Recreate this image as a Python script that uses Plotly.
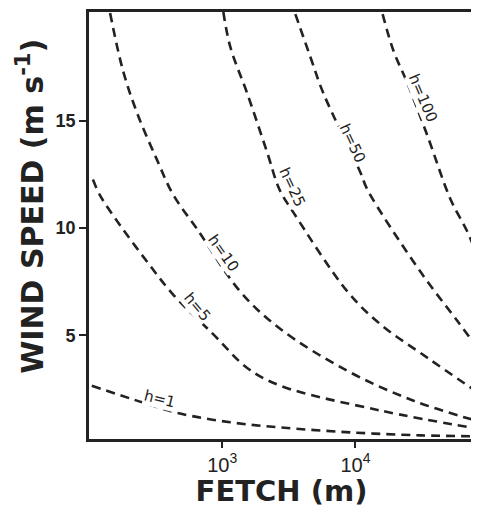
import numpy as np
import plotly.graph_objects as go

# ---- data (fetch in m, wind speed in m/s) ----
fetch_h1 = [105, 255, 483, 1150, 2730, 9160, 30800, 79000]
speed_h1 = [2.64, 1.85, 1.34, 0.93, 0.69, 0.46, 0.32, 0.28]

fetch_h5 = [107, 121, 171, 273, 428, 855, 1540, 2730, 15400, 79000]
speed_h5 = [12.27, 11.53, 10.14, 8.43, 6.90, 5.05, 3.47, 2.64, 1.48, 0.65]

fetch_h10 = [144, 180, 230, 324, 428, 649, 1365, 2690, 8710, 27300, 79000]
speed_h10 = [20.05, 17.36, 15.37, 13.19, 11.57, 9.95, 7.04, 5.32, 3.33, 1.94, 1.02]

fetch_h25 = [1020, 1150, 1540, 2180, 2690, 3420, 8710, 15400, 34800, 79000]
speed_h25 = [20.1, 18.47, 16.30, 13.52, 11.81, 10.74, 7.04, 5.51, 3.94, 2.41]

fetch_h50 = [3540, 4590, 5750, 10900, 12300, 30800, 58500, 82600]
speed_h50 = [20.0, 18.0, 16.3, 12.6, 11.8, 7.96, 5.65, 4.40]

fetch_h100 = [16000, 19300, 24600, 34800, 51800, 69500, 85500]
speed_h100 = [20.0, 18.29, 16.76, 14.3, 11.34, 9.81, 8.43]

curve_names = ["h=1", "h=5", "h=10", "h=25", "h=50", "h=100"]
curve_fetch = [fetch_h1, fetch_h5, fetch_h10, fetch_h25, fetch_h50, fetch_h100]
curve_speed = [speed_h1, speed_h5, speed_h10, speed_h25, speed_h50, speed_h100]

# label anchor points (on the curves) and text angles
label_fetch = [342, 648, 1020, 3360, 9480, 31900]
label_speed = [2.04, 6.30, 8.84, 11.94, 13.98, 16.06]
label_angle = [14, 50, 55, 65, 65, 67]

x_tickvals = [1e3, 1e4]
x_ticktext = ["10<sup>3</sup>", "10<sup>4</sup>"]
y_tickvals = [5, 10, 15]
y_ticktext = ["5", "10", "15"]

INK = "#222222"

fig = go.Figure()
for name, fx, sy in zip(curve_names, curve_fetch, curve_speed):
    fig.add_trace(go.Scatter(
        x=fx, y=sy, mode="lines", name=name,
        line=dict(color=INK, width=2.6, dash="9px,6px", shape="spline", smoothing=1.0),
        showlegend=False, hoverinfo="skip",
    ))

for name, lx, ly, ang in zip(curve_names, label_fetch, label_speed, label_angle):
    fig.add_annotation(
        x=np.log10(lx), y=ly, xref="x", yref="y", text=name, showarrow=False,
        textangle=ang, font=dict(family="DejaVu Sans", size=15, color=INK),
        bgcolor="white", borderpad=0,
    )

# y-axis title placed explicitly
fig.add_annotation(
    xref="paper", yref="paper", x=-0.152, y=0.545, xanchor="center", yanchor="middle",
    text="<b>WIND SPEED (m s<sup>-1</sup>)</b>", textangle=-90, showarrow=False,
    font=dict(family="DejaVu Sans", size=30, color=INK),
)

# the page body adds an 8px offset; the figure is sized so the plot lands in place
fig.update_layout(
    width=471, height=500,
    margin=dict(l=81, r=5, t=1, b=69),
    paper_bgcolor="white", plot_bgcolor="white",
    xaxis=dict(
        type="log", range=[2.0, 4.89],
        tickvals=x_tickvals, ticktext=x_ticktext,
        ticks="outside", ticklen=6, tickwidth=2, tickcolor=INK,
        showline=True, linecolor=INK, linewidth=2.6, mirror=True,
        showgrid=False, zeroline=False,
        tickfont=dict(family="Liberation Sans", size=20, color=INK),
        title=dict(text="<b>FETCH (m)</b>", standoff=5,
                   font=dict(family="DejaVu Sans", size=29, color=INK)),
    ),
    yaxis=dict(
        range=[0.15, 20.1],
        tickvals=y_tickvals, ticktext=y_ticktext,
        ticks="outside", ticklen=7, tickwidth=2, tickcolor=INK,
        showline=True, linecolor=INK, linewidth=2.6, mirror=True,
        showgrid=False, zeroline=False,
        tickfont=dict(family="Liberation Sans", size=18, color=INK, weight="bold"),
    ),
)

fig.write_html("out.html")
